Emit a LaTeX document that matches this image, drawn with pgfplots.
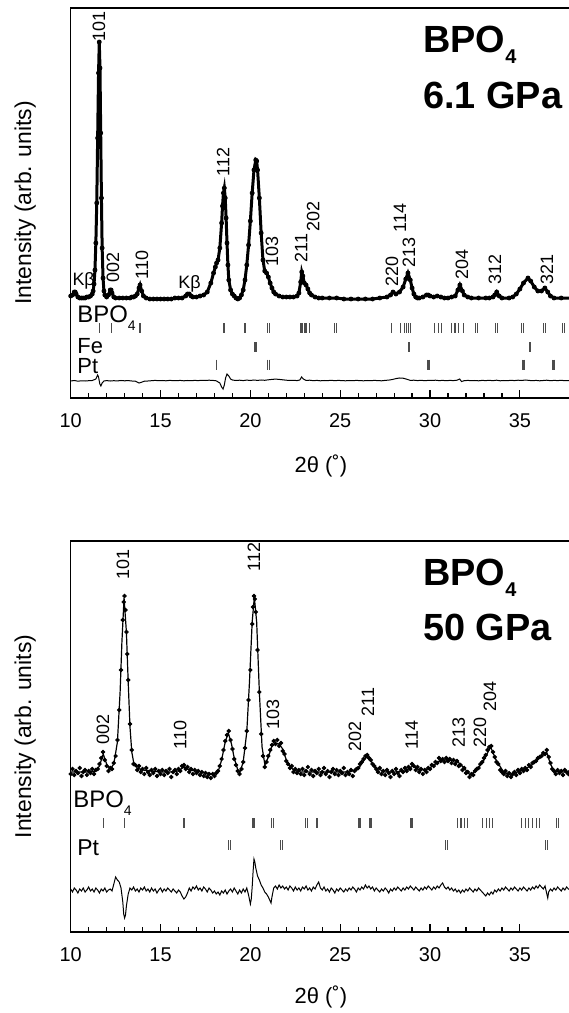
\documentclass[border=0pt]{standalone}
\usepackage{fontspec}
\setmainfont{Liberation Sans}
\usepackage{pgfplots}
\usepackage{pgfplotstable}
\pgfplotsset{compat=1.18}

% 6.1 GPa: observed pattern (calc curve lies on it)
\pgfplotstableread{
x y
10.0 102
10.1 103
10.2 106
10.25 106
10.3 104
10.4 101
10.5 100
10.6 100
10.7 100
10.8 100
10.9 101
11.0 101
11.1 102
11.2 104
11.25 107
11.3 114
11.35 128
11.4 155
11.45 195
11.5 260
11.55 325
11.59 356
11.63 330
11.67 265
11.71 200
11.75 150
11.8 120
11.85 107
11.9 103
12.0 101
12.1 103
12.2 108
12.25 108
12.3 105
12.4 101
12.5 100
12.7 100
12.9 100
13.1 100
13.3 100
13.4 101
13.5 101
13.6 102
13.7 104
13.8 110
13.86 113
13.95 107
14.05 102
14.2 100
14.4 99
14.6 99
14.8 99
15.0 99
15.2 99
15.4 99
15.6 99
15.8 100
16.0 100
16.2 100
16.4 102
16.5 104
16.6 104
16.7 102
16.8 101
17.0 101
17.2 102
17.4 103
17.6 106
17.8 115
17.95 125
18.05 131
18.12 135
18.2 138
18.3 150
18.4 175
18.45 192
18.5 205
18.55 210
18.6 200
18.65 180
18.7 155
18.75 133
18.8 118
18.9 108
19.0 104
19.1 102
19.2 100
19.3 99
19.4 100
19.5 103
19.6 108
19.7 118
19.8 133
19.9 153
20.0 177
20.1 205
20.2 228
20.3 238
20.35 237
20.4 228
20.5 200
20.6 165
20.7 138
20.8 127
20.9 125
21.0 121
21.1 115
21.2 110
21.3 106
21.4 104
21.6 102
21.8 101
22.0 101
22.2 101
22.4 101
22.6 102
22.7 105
22.8 116
22.86 126
22.92 122
23.0 115
23.1 113
23.2 109
23.3 105
23.4 103
23.6 101
23.8 100
24.0 100
24.4 100
24.8 100
25.2 99
25.6 99
26.0 99
26.4 99
26.8 99
27.2 100
27.6 101
27.8 103
27.94 106
28.1 104
28.3 106
28.5 111
28.65 119
28.77 125
28.9 118
29.0 110
29.1 104
29.2 101
29.3 100
29.4 100
29.6 101
29.8 103
29.9 103
30.0 102
30.2 101
30.4 102
30.6 101
30.8 100
31.0 100
31.2 101
31.4 102
31.55 108
31.66 113
31.8 107
31.9 103
32.1 101
32.3 100
32.7 100
33.1 100
33.3 100
33.5 101
33.6 103
33.71 106
33.85 102
34.0 100
34.4 100
34.6 101
34.8 104
35.0 109
35.2 115
35.45 120
35.6 117
35.8 111
36.0 107
36.2 107
36.39 110
36.55 106
36.7 102
36.9 100
37.3 100
37.85 100
}\obsA

\pgfplotstableread{
x y
10.0 17
10.2 17.5
10.4 16.8
10.6 17.2
10.8 17
11.0 17.3
11.2 17.5
11.4 19
11.5 23
11.55 21
11.62 14
11.68 12
11.75 15
11.85 17
12.0 17.4
12.2 17
12.4 17.3
12.6 17.1
12.8 17.5
13.0 17.2
13.2 17.4
13.4 17
13.6 16.8
13.8 15
13.9 15.5
14.1 16.8
14.3 17
14.5 17.3
14.7 17.6
14.9 17.3
15.1 17.5
15.3 17.2
15.5 17.6
15.7 17.4
15.9 17.3
16.1 17.6
16.3 17.2
16.5 17.5
16.7 17.3
16.9 17.6
17.1 17.4
17.3 17.7
17.5 17.5
17.7 17.8
17.9 17.6
18.1 17.2
18.3 15
18.4 11
18.48 9
18.55 13
18.62 20
18.7 24
18.8 22
18.9 19
19.0 18
19.2 17.5
19.4 17.8
19.6 17.4
19.8 17.9
20.0 17.5
20.2 18
20.4 17.6
20.6 18
20.8 17.7
21.0 18.2
21.2 18.6
21.4 18.9
21.6 18.6
21.8 18.2
22.0 17.8
22.2 17.5
22.4 17.7
22.6 17.4
22.75 18
22.85 21
22.95 19
23.1 17.6
23.3 17.8
23.5 17.3
23.7 17.6
23.9 17.2
24.1 17.5
24.3 17.4
24.5 17.7
24.7 17.3
24.9 17.6
25.1 17.4
25.3 17.2
25.5 17.5
25.7 17.3
25.9 17.6
26.1 17.4
26.3 17.2
26.5 17.5
26.7 17.3
26.9 17.6
27.1 17.4
27.3 17.2
27.5 17.6
27.7 17.9
27.9 18.5
28.1 19.4
28.3 20
28.5 19.8
28.7 18.8
28.9 17.6
29.1 17.8
29.3 17.4
29.5 17.7
29.7 17.3
29.9 17.6
30.1 17.5
30.3 17.8
30.5 17.4
30.7 17.6
30.9 17.3
31.1 17.6
31.3 17.4
31.5 17.8
31.65 19
31.75 16.5
31.9 17.3
32.1 17.6
32.3 17.3
32.5 17.5
32.7 17.2
32.9 17.6
33.1 17.4
33.3 17.7
33.5 17.3
33.7 17.8
33.9 17.2
34.1 17.5
34.3 17.3
34.5 17.7
34.7 17.4
34.9 17.8
35.1 17.5
35.3 18
35.5 17.6
35.7 17.3
35.9 17.6
36.1 17.2
36.3 17.5
36.5 17.8
36.7 17.3
36.9 17.6
37.1 17.4
37.3 17.7
37.5 17.3
37.7 17.5
37.85 17.4
}\diffA

% 50 GPa: calculated profile
\pgfplotstableread{
x y
10.0 160
10.5 160
11.0 160
11.4 161
11.6 166
11.81 178
12.0 168
12.2 163
12.4 168
12.6 190
12.75 240
12.85 290
12.97 334
13.1 300
13.2 250
13.3 205
13.4 180
13.5 170
13.7 164
14.0 162
14.5 161
15.0 160
15.5 160
16.0 161
16.3 165
16.6 162
17.0 161
17.5 159
18.0 158
18.2 160
18.4 172
18.6 190
18.77 199
18.95 188
19.1 174
19.3 162
19.42 160
19.6 170
19.8 200
19.95 250
20.1 310
20.22 335
20.35 310
20.5 240
20.65 185
20.81 167
21.0 175
21.2 186
21.4 189
21.6 188
21.8 183
22.0 172
22.2 166
22.4 162
22.8 160
23.5 160
24.5 160
25.5 160
26.0 163
26.3 171
26.47 175
26.7 171
27.0 164
27.5 160
28.0 160
28.6 161
29.05 166
29.4 162
29.9 163
30.3 168
30.6 172
31.0 172
31.5 171
31.9 164
32.22 157
32.6 162
33.0 172
33.37 185
33.7 171
34.1 160
34.47 157
35.0 161
35.6 166
36.1 174
36.49 180
36.7 168
36.9 161
37.3 160
37.85 160
}\calcB

% 50 GPa: observed points
\pgfplotstableread{
x y
10.0 158
10.1 163
10.2 157
10.3 161
10.4 159
10.5 164
10.6 156
10.7 160
10.8 162
10.9 157
11.0 161
11.1 159
11.2 163
11.3 158
11.4 162
11.5 163
11.6 168
11.7 174
11.8 180
11.9 172
12.0 166
12.1 161
12.2 164
12.3 163
12.4 169
12.5 176
12.6 192
12.7 222
12.8 262
12.9 312
12.95 330
13.0 336
13.05 322
13.1 300
13.15 278
13.2 252
13.3 208
13.4 182
13.5 168
13.6 167
13.7 162
13.8 166
13.9 160
14.0 163
14.1 158
14.2 164
14.3 160
14.4 157
14.5 162
14.6 159
14.7 163
14.8 156
14.9 161
15.0 158
15.1 162
15.2 157
15.3 161
15.4 159
15.5 163
15.6 155
15.7 160
15.8 162
15.9 158
16.0 163
16.1 161
16.2 166
16.3 167
16.4 163
16.5 165
16.6 160
16.7 163
16.8 158
16.9 162
17.0 159
17.1 161
17.2 157
17.3 160
17.4 156
17.5 159
17.6 155
17.7 158
17.8 154
17.9 158
18.0 156
18.1 159
18.2 161
18.3 166
18.4 173
18.5 182
18.6 191
18.7 197
18.8 201
18.9 192
19.0 183
19.1 173
19.2 167
19.3 161
19.4 158
19.5 163
19.6 170
19.7 184
19.8 201
19.9 232
20.0 262
20.1 308
20.15 325
20.2 336
20.25 333
20.3 320
20.4 282
20.5 240
20.6 198
20.7 176
20.8 165
20.9 170
21.0 176
21.1 182
21.2 187
21.3 191
21.4 188
21.5 192
21.6 186
21.7 189
21.8 181
21.9 178
22.0 171
22.1 168
22.2 164
22.3 166
22.4 160
22.5 163
22.6 159
22.7 162
22.8 158
22.9 163
23.0 157
23.1 161
23.2 165
23.3 158
23.4 162
23.5 156
23.6 161
23.7 159
23.8 163
23.9 157
24.0 160
24.1 164
24.2 158
24.3 161
24.4 155
24.5 160
24.6 163
24.7 158
24.8 162
24.9 157
25.0 161
25.1 159
25.2 164
25.3 157
25.4 160
25.5 158
25.6 162
25.7 156
25.8 161
25.9 163
26.0 164
26.1 168
26.2 170
26.3 173
26.4 176
26.5 177
26.6 174
26.7 172
26.8 168
26.9 166
27.0 163
27.1 160
27.2 164
27.3 158
27.4 161
27.5 157
27.6 162
27.7 159
27.8 155
27.9 161
28.0 158
28.1 163
28.2 159
28.3 156
28.4 162
28.5 160
28.6 164
28.7 161
28.8 165
28.9 163
29.0 168
29.1 166
29.2 162
29.3 165
29.4 160
29.5 163
29.6 158
29.7 162
29.8 160
29.9 164
30.0 163
30.1 167
30.2 166
30.3 170
30.4 169
30.5 174
30.6 171
30.7 173
30.8 170
30.9 174
31.0 171
31.1 173
31.2 169
31.3 172
31.4 168
31.5 171
31.6 166
31.7 167
31.8 162
31.9 164
32.0 159
32.1 160
32.2 155
32.3 158
32.4 157
32.5 161
32.6 163
32.7 164
32.8 168
32.9 170
33.0 174
33.1 177
33.2 182
33.3 185
33.4 186
33.5 180
33.6 175
33.7 170
33.8 168
33.9 162
34.0 160
34.1 158
34.2 161
34.3 156
34.4 159
34.5 155
34.6 158
34.7 160
34.8 157
34.9 162
35.0 159
35.1 163
35.2 161
35.3 164
35.4 162
35.5 167
35.6 165
35.7 169
35.8 170
35.9 171
36.0 174
36.1 175
36.2 176
36.3 179
36.4 178
36.5 182
36.6 175
36.7 169
36.8 163
36.9 161
37.0 158
37.1 162
37.2 159
37.3 161
37.4 157
37.5 162
37.6 160
37.7 158
37.8 161
}\obsB

\pgfplotstableread{
x y
10.0 43
10.1 40
10.2 44
10.3 42
10.4 39
10.5 43
10.6 41
10.7 44
10.8 40
10.9 42
11.0 45
11.1 41
11.2 43
11.3 40
11.4 44
11.5 42
11.6 39
11.7 43
11.8 41
11.9 44
12.0 40
12.1 42
12.2 43
12.3 41
12.4 48
12.5 55
12.6 52
12.7 50
12.8 44
12.9 30
12.95 18
13.0 14
13.05 17
13.1 26
13.2 38
13.3 44
13.4 42
13.5 45
13.6 41
13.7 43
13.8 40
13.9 44
14.0 42
14.1 45
14.2 41
14.3 43
14.4 40
14.5 44
14.6 41
14.7 43
14.8 39
14.9 42
15.0 44
15.1 40
15.2 43
15.3 41
15.4 44
15.5 42
15.6 40
15.7 43
15.8 41
15.9 39
16.0 42
16.1 40
16.2 36
16.3 33
16.4 35
16.5 39
16.6 44
16.7 41
16.8 45
16.9 43
17.0 46
17.1 42
17.2 44
17.3 41
17.4 45
17.5 43
17.6 40
17.7 44
17.8 42
17.9 39
18.0 41
18.1 38
18.2 40
18.3 37
18.4 41
18.5 39
18.6 42
18.7 38
18.8 41
18.9 43
19.0 40
19.1 44
19.2 41
19.3 38
19.4 42
19.5 39
19.6 43
19.7 40
19.8 44
19.9 37
20.0 28
20.05 33
20.1 45
20.15 60
20.2 73
20.25 70
20.3 64
20.4 56
20.5 52
20.6 47
20.7 44
20.8 40
20.9 38
21.0 35
21.1 31
21.15 29
21.2 35
21.3 44
21.4 46
21.5 43
21.6 47
21.7 44
21.8 46
21.9 43
22.0 45
22.1 42
22.2 46
22.3 44
22.4 41
22.5 45
22.6 42
22.7 44
22.8 41
22.9 45
23.0 43
23.1 46
23.2 42
23.3 44
23.4 41
23.5 45
23.6 43
23.7 47
23.8 50
23.9 44
24.0 42
24.1 45
24.2 41
24.3 43
24.4 40
24.5 44
24.6 42
24.7 39
24.8 43
24.9 41
25.0 44
25.1 42
25.2 40
25.3 43
25.4 41
25.5 44
25.6 42
25.7 45
25.8 43
25.9 40
26.0 44
26.1 42
26.2 45
26.3 43
26.4 47
26.5 44
26.6 46
26.7 43
26.8 45
26.9 41
27.0 44
27.1 42
27.2 40
27.3 43
27.4 41
27.5 44
27.6 42
27.7 39
27.8 43
27.9 41
28.0 44
28.1 42
28.2 45
28.3 43
28.4 41
28.5 44
28.6 42
28.7 45
28.8 43
28.9 46
29.0 44
29.1 42
29.2 45
29.3 43
29.4 41
29.5 44
29.6 42
29.7 45
29.8 43
29.9 46
30.0 44
30.1 42
30.2 45
30.3 43
30.4 46
30.5 44
30.6 47
30.7 49
30.8 45
30.9 43
31.0 45
31.1 42
31.2 44
31.3 41
31.4 43
31.5 40
31.6 42
31.7 39
31.8 42
31.9 40
32.0 43
32.1 41
32.2 44
32.3 42
32.4 40
32.5 43
32.6 41
32.7 44
32.8 42
32.9 40
33.0 38
33.1 36
33.2 39
33.3 37
33.4 40
33.5 38
33.6 42
33.7 40
33.8 43
33.9 41
34.0 44
34.1 42
34.2 45
34.3 43
34.4 41
34.5 44
34.6 42
34.7 45
34.8 43
34.9 41
35.0 44
35.1 42
35.2 45
35.3 43
35.4 41
35.5 44
35.6 42
35.7 45
35.8 43
35.9 46
36.0 44
36.1 47
36.2 45
36.3 43
36.4 46
36.5 38
36.55 34
36.6 40
36.7 43
36.8 41
36.9 44
37.0 42
37.1 45
37.2 43
37.3 41
37.4 44
37.5 42
37.6 45
37.7 43
37.8 42
}\diffB

\newcommand{\pk}[3]{\node[rotate=90,anchor=west,inner sep=0pt,font=\fontsize{9}{9}\selectfont] at (axis cs:#1,#2) {#3};}

\pgfplotsset{
  xrd/.style={
    width=250.2bp, scale only axis, xmin=10, xmax=37.85, ymin=0,
    xtick={10,15,...,35}, minor x tick num=4, ytick=\empty,
    xtick pos=bottom, tick align=inside,
    major tick length=4bp, minor tick length=2.5bp,
    axis line style={line width=0.6bp}, every tick/.style={black, line width=0.6bp},
    /pgf/number format/assume math mode=true,
    tick label style={font=\fontsize{10}{10}\selectfont},
    xticklabel style={anchor=base, yshift=-14.7bp},
    xlabel={2θ (˚)},
    xlabel style={font=\fontsize{11}{11}\selectfont},
    ylabel={Intensity (arb. units)},
    ylabel style={at={(axis description cs:-0.079,0.5)}, anchor=base, font=\fontsize{11.5}{11.5}\selectfont},
    clip=false,
  },
  hkl/.style={only marks, mark=|, mark size=2.5bp, mark options={line width=0.55bp, black!70}},
}

\begin{document}
\begin{tikzpicture}
\path[use as bounding box] (-35.35bp,199bp) rectangle (249.15bp,-307.5bp);

\begin{axis}[xrd, at={(0,0)}, anchor=south west, height=195bp, ymax=390,
  xlabel style={at={(axis description cs:0.5,-0.192)}, anchor=base}]
\addplot[black, line width=1.5bp] table {\obsA};
\addplot[only marks, mark=*, mark size=1bp, black] table {\obsA};
\addplot[black, line width=0.5bp] table {\diffA};
\addplot[hkl] coordinates {(11.59,70) (12.28,70) (13.82,70) (13.9,70) (18.5,70) (18.58,70) (19.66,70) (19.74,70) (20.96,70) (21.04,70) (22.82,70) (22.88,70) (23.04,70) (23.1,70) (23.28,70) (24.7,70) (24.78,70) (27.86,70) (28.36,70) (28.6,70) (28.7,70) (28.8,70) (28.92,70) (30.27,70) (30.46,70) (30.65,70) (31.2,70) (31.39,70) (31.57,70) (31.85,70) (32.55,70) (32.66,70) (33.66,70) (33.76,70) (35.08,70) (35.18,70) (36.3,70) (36.42,70) (37.38,70) (37.48,70)};
\addplot[hkl] coordinates {(20.26,51) (20.34,51) (28.8,51) (28.88,51) (35.52,51) (35.6,51)};
\addplot[hkl] coordinates {(18.13,33.5) (20.96,33.5) (21.04,33.5) (29.86,33.5) (29.94,33.5) (35.15,33.5) (35.23,33.5) (36.82,33.5) (36.9,33.5)};
\node[anchor=base west, inner sep=0pt, font=\fontsize{12}{12}\selectfont] at (axis cs:10.35,76) {BPO\raisebox{-4bp}{\fontsize{7}{7}\selectfont 4}};
\node[anchor=base west, inner sep=0pt, font=\fontsize{11}{11}\selectfont] at (axis cs:10.35,45) {Fe};
\node[anchor=base west, inner sep=0pt, font=\fontsize{11}{11}\selectfont] at (axis cs:10.35,25) {Pt};
\node[anchor=base west, inner sep=0pt, font=\bfseries\fontsize{19}{19}\selectfont] at (axis cs:29.6,346) {BPO\raisebox{-5.5bp}{\fontsize{10}{10}\selectfont 4}};
\node[anchor=base west, inner sep=0pt, font=\bfseries\fontsize{19}{19}\selectfont] at (axis cs:29.6,290) {6.1 GPa};
\node[anchor=base west, inner sep=0pt, font=\fontsize{9}{9}\selectfont] at (axis cs:10.08,113) {Kβ};
\node[anchor=base west, inner sep=0pt, font=\fontsize{9}{9}\selectfont] at (axis cs:15.97,110) {Kβ};
\pk{11.57}{356}{101}
\pk{12.35}{115}{002}
\pk{13.97}{118}{110}
\pk{18.48}{221}{112}
\pk{21.2}{131}{103}
\pk{22.82}{135}{211}
\pk{23.49}{166}{202}
\pk{27.88}{111}{220}
\pk{28.83}{130}{213}
\pk{28.33}{165}{114}
\pk{31.78}{118}{204}
\pk{33.61}{113}{312}
\pk{36.5}{113}{321}
\end{axis}

\begin{axis}[xrd, at={(0,-267bp)}, anchor=south west, height=195.5bp, ymax=391,
  xlabel style={at={(axis description cs:0.5,-0.182)}, anchor=base}]
\addplot[only marks, mark=*, mark size=0.9bp, black] table {\obsB};
\addplot[black, line width=0.6bp] table {\calcB};
\addplot[black, line width=0.5bp] table {\diffB};
\addplot[hkl] coordinates {(11.81,109) (12.97,109) (16.26,109) (16.34,109) (20.12,109) (20.2,109) (21.2,109) (21.28,109) (23.09,109) (23.17,109) (23.68,109) (23.76,109) (26.02,109) (26.1,109) (26.62,109) (26.68,109) (26.74,109) (28.94,109) (29.02,109) (31.55,109) (31.72,109) (31.9,109) (32.07,109) (32.93,109) (33.12,109) (33.3,109) (33.49,109) (35.1,109) (35.3,109) (35.5,109) (35.7,109) (35.9,109) (36.1,109) (37.05,109) (37.15,109)};
\addplot[hkl] coordinates {(18.79,87) (18.87,87) (21.7,87) (21.78,87) (30.88,87) (30.96,87) (36.45,87) (36.53,87)};
\node[anchor=base west, inner sep=0pt, font=\fontsize{12}{12}\selectfont] at (axis cs:10.13,125) {BPO\raisebox{-4bp}{\fontsize{7}{7}\selectfont 4}};
\node[anchor=base west, inner sep=0pt, font=\fontsize{11.5}{11.5}\selectfont] at (axis cs:10.35,77) {Pt};
\node[anchor=base west, inner sep=0pt, font=\bfseries\fontsize{19}{19}\selectfont] at (axis cs:29.6,347) {BPO\raisebox{-5.5bp}{\fontsize{10}{10}\selectfont 4}};
\node[anchor=base west, inner sep=0pt, font=\bfseries\fontsize{19}{19}\selectfont] at (axis cs:29.6,292) {50 GPa};
\pk{12.91}{352}{101}
\pk{11.8}{187}{002}
\pk{16.1}{182}{110}
\pk{20.2}{360}{112}
\pk{21.26}{202}{103}
\pk{25.82}{180}{202}
\pk{26.54}{215}{211}
\pk{28.98}{182}{114}
\pk{31.6}{184}{213}
\pk{32.78}{184}{220}
\pk{33.33}{220}{204}
\end{axis}
\end{tikzpicture}
\end{document}
